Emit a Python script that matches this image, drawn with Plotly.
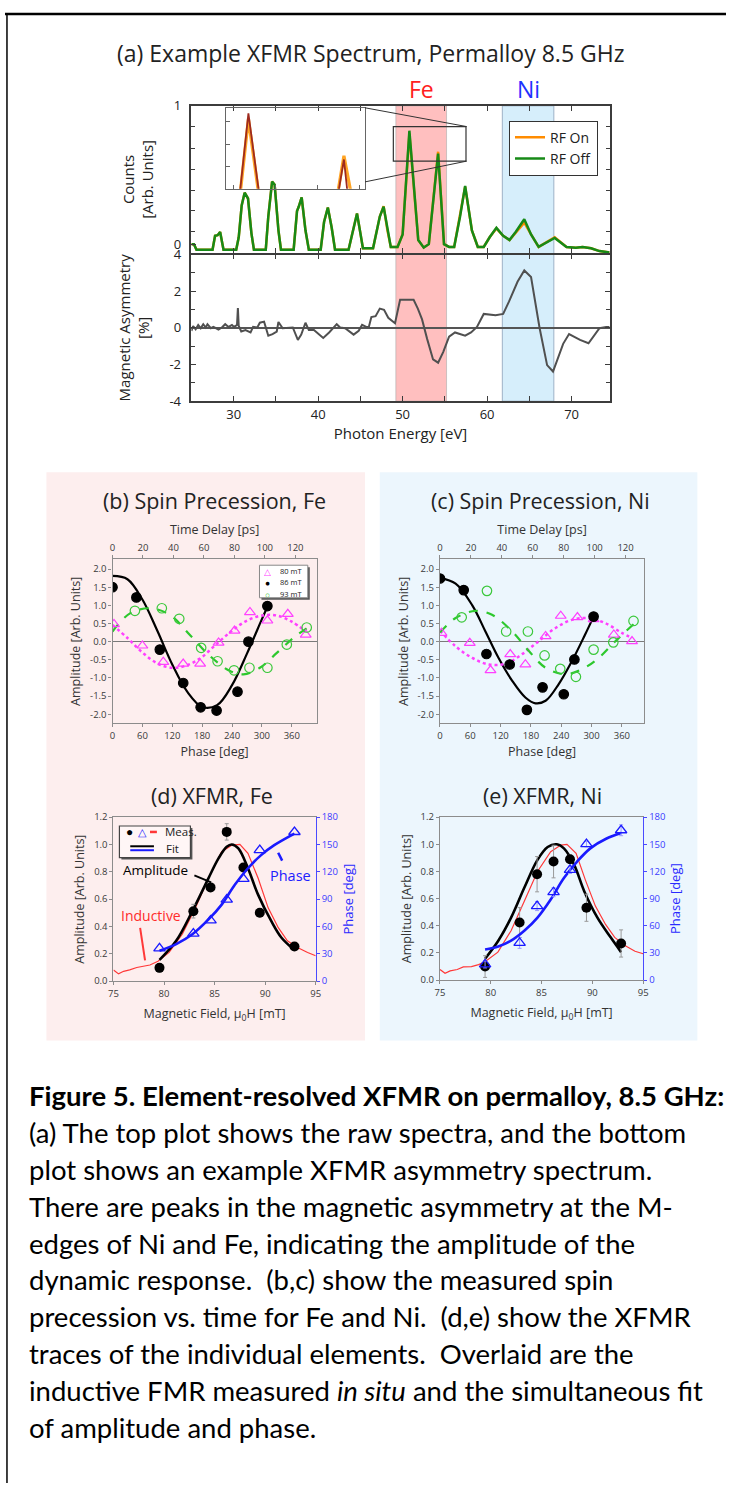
import plotly.graph_objects as go

W, H = 731, 1492
def px(v): return v / W
def py(v): return 1 - v / H

FONT = "Open Sans"
CAP_FONT = "Lato"

# ---------------- (a) spectra ----------------
spec_energy = [25.0, 25.3, 25.6, 27.5, 27.8, 28.1, 28.4, 28.8, 30.3, 30.6,
               30.95, 31.3, 31.7, 32.1, 32.4, 33.8, 34.1, 34.55, 34.85, 35.3,
               35.6, 37.1, 37.5, 37.7, 38.05, 38.5, 38.9, 40.3, 40.7, 41.15,
               41.6, 42.0, 43.6, 44.0, 44.6, 45.0, 45.3, 46.5, 46.9, 47.3,
               47.75, 48.2, 48.6, 49.4, 50.0, 50.8, 51.85, 52.5, 53.1, 54.2,
               54.9, 55.5, 56.1, 56.8, 57.4, 58.2, 58.9, 59.6, 60.3, 61.1,
               61.9, 62.65, 63.4, 64.4, 65.2, 66.1, 68.0, 69.4, 70.5, 71.3,
               72.3, 73.3, 74.5]
rf_off_counts = [0.0, 0.0, -0.04, -0.04, 0.06, 0.065, 0.088, -0.04, -0.04, 0.05,
                 0.28, 0.372, 0.33, 0.08, -0.04, -0.04, 0.2, 0.452, 0.43, 0.1,
                 -0.04, -0.04, 0.24, 0.27, 0.338, 0.1, -0.04, -0.04, 0.16, 0.265,
                 0.12, -0.04, -0.04, 0.06, 0.222, 0.08, -0.03, -0.03, 0.08, 0.2,
                 0.271, 0.1, -0.02, -0.02, 0.07, 0.82, 0.03, -0.025, 0.0, 0.655,
                 0.0, -0.02, -0.02, 0.2, 0.42, 0.1, -0.02, -0.02, 0.05, 0.118,
                 0.06, 0.03, 0.09, 0.18, 0.07, -0.02, 0.045, -0.02, -0.025, -0.02,
                 -0.03, -0.05, -0.06]
rf_on_counts = [0.0, 0.0, -0.04, -0.04, 0.06, 0.065, 0.088, -0.04, -0.04, 0.05,
                0.28, 0.372, 0.33, 0.08, -0.04, -0.04, 0.2, 0.452, 0.43, 0.1,
                -0.04, -0.04, 0.24, 0.27, 0.338, 0.1, -0.04, -0.04, 0.16, 0.265,
                0.12, -0.04, -0.04, 0.06, 0.222, 0.08, -0.03, -0.03, 0.08, 0.2,
                0.275, 0.1, -0.02, -0.02, 0.07, 0.80, 0.03, -0.025, 0.0, 0.668,
                0.0, -0.02, -0.02, 0.2, 0.415, 0.1, -0.02, -0.02, 0.05, 0.113,
                0.06, 0.03, 0.085, 0.155, 0.07, -0.02, 0.05, -0.02, -0.025, -0.02,
                -0.03, -0.05, -0.06]

asym_energy = [25.0, 25.2, 25.5, 25.8, 26.1, 26.4, 26.7, 26.9, 27.3, 27.6,
               28.2, 28.6, 29.0, 29.4, 29.8, 30.05, 30.4, 30.5, 30.6, 30.9,
               31.4, 32.0, 32.3, 32.8, 33.1, 33.6, 34.1, 34.6, 35.1, 35.3,
               35.8, 36.4, 37.0, 37.6, 38.0, 38.5, 38.9, 39.5, 40.6, 41.3,
               42.2, 42.6, 43.2, 44.2, 44.8, 45.2, 45.7, 46.0, 46.3, 46.8,
               47.3, 47.8, 48.3, 49.1, 49.7, 50.3, 51.3, 51.8, 52.3, 52.9,
               53.6, 54.2, 54.8, 55.5, 56.2, 57.4, 58.1, 58.8, 59.6, 61.0,
               61.9, 62.6, 63.6, 64.4, 65.2, 66.2, 67.1, 67.8, 69.0, 69.7,
               71.0, 72.0, 73.3, 74.1, 74.5]
asym_percent = [-0.16, 0.1, -0.07, 0.16, -0.02, 0.2, 0.02, 0.2, -0.02, 0.05,
                -0.09, 0.02, 0.2, 0.05, 0.16, 0.05, 0.16, 1.08, 0.1, -0.2,
                -0.12, -0.25, 0.05, 0.02, 0.28, 0.34, -0.43, -0.34, -0.2, 0.32,
                -0.02, 0.02, 0.02, -0.66, -0.37, 0.28, -0.12, -0.12, -0.55, -0.25,
                0.2, 0.02, -0.02, -0.37, -0.16, 0.16, 0.05, 0.05, 0.59, 0.64,
                1.05, 0.98, 0.55, 0.25, 1.53, 1.53, 1.53, 1.05, 0.46, -0.6,
                -1.72, -1.9, -1.32, -0.48, -0.25, -0.43, -0.25, 0.05, 0.76, 0.69,
                0.76, 1.44, 2.51, 3.13, 2.77, 0.02, -2.03, -2.38, -0.87, -0.34,
                -0.66, -0.84, -0.02, 0.05, 0.05]
fe_band = [49.2, 55.2]
ni_band = [61.8, 67.9]
inset_box_x = [48.9, 57.5]
inset_box_y = [0.6, 0.85]

# ---------------- (b) spin precession Fe ----------------
b_ph_80 = [3, 60, 102, 142, 176, 213, 245, 276, 311, 352, 388]
b_amp_80 = [0.48, -0.11, -0.56, -0.61, -0.61, -0.03, 0.30, 0.81, 0.58, 0.76, 0.19]
b_ph_86 = [0, 48, 95, 142, 177, 209, 251, 273, 311]
b_amp_86 = [1.5, 1.22, -0.22, -1.14, -1.81, -1.9, -1.38, 0.0, 0.98]
b_ph_93 = [45, 99, 134, 178, 211, 244, 275, 311, 350, 390]
b_amp_93 = [0.85, 0.92, 0.63, -0.17, -0.54, -0.79, -0.72, -0.72, -0.08, 0.39]
b_fit86_ph = [0, 30, 60, 90, 120, 150, 180, 210, 240, 270, 300, 311]
b_fit86_amp = [1.81, 1.72, 1.16, 0.3, -0.63, -1.38, -1.8, -1.75, -1.2, -0.33, 0.62, 0.96]
b_fit80_ph = [0, 30, 60, 90, 120, 150, 180, 210, 240, 270, 300, 330, 360, 388]
b_fit80_amp = [0.46, 0.1, -0.3, -0.6, -0.72, -0.65, -0.42, -0.05, 0.3, 0.58, 0.72, 0.72, 0.55, 0.28]
b_fit93_ph = [0, 35, 75, 115, 155, 196, 236, 263, 296, 330, 363, 390]
b_fit93_amp = [0.28, 0.78, 0.92, 0.74, 0.19, -0.4, -0.81, -0.9, -0.72, -0.31, 0.1, 0.37]
legend_fields = ["80 mT", "86 mT", "93 mT"]

# ---------------- (c) spin precession Ni ----------------
c_ph_80 = [3, 59, 100, 139, 169, 209, 239, 272, 304, 344, 380]
c_amp_80 = [0.24, -0.04, -0.79, -0.35, -0.63, 0.15, 0.71, 0.67, 0.62, 0.19, 0.01]
c_ph_86 = [0, 47, 92, 138, 172, 203, 245, 266, 304]
c_amp_86 = [1.74, 1.42, -0.34, -0.63, -1.88, -1.26, -1.45, -0.49, 0.69]
c_ph_93 = [43, 93, 131, 174, 207, 238, 269, 304, 343, 383]
c_amp_93 = [0.67, 1.40, 0.28, 0.28, -0.38, -0.75, -0.97, -0.22, -0.02, 0.57]
c_fit86_ph = [0, 31, 64, 90, 116, 143, 169, 189, 209, 235, 261, 287, 304]
c_fit86_amp = [1.75, 1.6, 1.0, 0.28, -0.45, -1.08, -1.54, -1.70, -1.63, -1.17, -0.54, 0.19, 0.69]
c_fit80_ph = [0, 31, 64, 97, 130, 162, 195, 228, 261, 294, 327, 360, 380]
c_fit80_amp = [0.3, -0.13, -0.45, -0.63, -0.61, -0.35, 0.01, 0.37, 0.6, 0.65, 0.51, 0.24, 0.1]
c_fit93_ph = [0, 31, 70, 103, 143, 176, 209, 248, 281, 314, 347, 383]
c_fit93_amp = [0.25, 0.65, 0.85, 0.74, 0.28, -0.26, -0.72, -0.9, -0.76, -0.45, 0.01, 0.48]

DEG_PER_PS = 3.06
B_RANGE = 410
C_RANGE = 404

# ---------------- (d) XFMR Fe ----------------
d_field = [79.55, 82.9, 84.6, 86.2, 87.85, 89.47, 92.9]
d_amp = [0.097, 0.512, 0.686, 1.092, 0.831, 0.5, 0.254]
d_amp_err = [0.03, 0.05, 0.03, 0.06, 0.03, 0.03, 0.02]
d_phase = [35.9, 52.2, 66.6, 89.5, 112.3, 143.8, 163.7]
d_fit_field = [79.55, 81.2, 82.8, 84.4, 85.4, 86.2, 86.7, 87.35, 88.3, 89.3, 90.6, 91.6, 92.9]
d_fit_amp = [0.155, 0.295, 0.512, 0.754, 0.9, 0.983, 1.0, 0.971, 0.826, 0.633, 0.44, 0.319, 0.227]
d_phfit_field = [79.55, 81.2, 82.8, 84.4, 85.7, 87.0, 88.3, 89.6, 90.9, 92.9]
d_phfit = [33.3, 40.6, 51.4, 67.7, 84.0, 105.8, 123.9, 138.3, 149.2, 161.9]
d_ind_field = [75.0, 75.5, 76.0, 76.6, 77.3, 77.9, 78.6, 79.4, 80.5, 81.8, 83.1, 84.4,
               85.7, 86.7, 87.5, 88.3, 89.3, 90.3, 91.3, 92.2, 93.2, 94.2, 95.0]
d_ind_amp = [0.082, 0.053, 0.072, 0.082, 0.10, 0.106, 0.118, 0.145, 0.21, 0.343, 0.536, 0.754,
             0.947, 0.995, 1.0, 0.935, 0.754, 0.536, 0.391, 0.295, 0.246, 0.21, 0.186]

# ---------------- (e) XFMR Ni ----------------
e_field = [79.44, 82.84, 84.56, 86.18, 87.8, 89.42, 92.83]
e_amp = [0.10, 0.424, 0.78, 0.873, 0.89, 0.533, 0.27]
e_amp_err = [0.08, 0.11, 0.13, 0.12, 0.03, 0.1, 0.1]
e_phase = [17.5, 41.1, 81.8, 97.1, 121.8, 150.2, 165.5]
e_phase_err = [4, 6, 5, 5, 4, 3, 6]
e_fit_field = [79.44, 80.74, 82.0, 83.3, 84.6, 85.6, 86.5, 87.2, 88.2, 89.2, 90.5, 91.8, 92.83]
e_fit_amp = [0.158, 0.29, 0.46, 0.68, 0.885, 0.98, 1.0, 0.97, 0.85, 0.655, 0.46, 0.315, 0.206]
e_phfit_field = [79.44, 80.74, 82.0, 83.3, 84.6, 85.9, 87.2, 88.5, 89.8, 91.4, 92.83]
e_phfit = [33.8, 37.1, 43.6, 54.5, 69.1, 89.1, 112.7, 130.9, 145.5, 156.4, 162.5]
e_ind_field = [75.0, 75.5, 76.0, 76.7, 77.3, 78.1, 78.8, 79.4, 80.7, 82.0, 83.3, 84.6,
               85.9, 86.9, 87.5, 88.4, 89.3, 90.3, 91.3, 92.2, 93.2, 94.2, 95.0]
e_ind_amp = [0.078, 0.05, 0.068, 0.078, 0.097, 0.10, 0.114, 0.133, 0.206, 0.364, 0.58, 0.8,
             0.945, 0.994, 1.0, 0.933, 0.74, 0.545, 0.41, 0.315, 0.255, 0.213, 0.194]

caption_title = "<b>Figure 5. Element-resolved XFMR on permalloy, 8.5 GHz:</b>"
caption_lines = [
    "(a) The top plot shows the raw spectra, and the bottom",
    "plot shows an example XFMR asymmetry spectrum.",
    "There are peaks in the magnetic asymmetry at the M-",
    "edges of Ni and Fe, indicating the amplitude of the",
    "dynamic response.\u00a0 (b,c) show the measured spin",
    "precession vs. time for Fe and Ni.\u00a0 (d,e) show the XFMR",
    "traces of the individual elements.\u00a0 Overlaid are the",
    "inductive FMR measured <i>in situ</i> and the simultaneous fit",
    "of amplitude and phase.",
]

# colours
ORANGE = "#FF8C00"
GREEN = "#178A17"
MAGENTA = "#FF40FF"
LGREEN = "#3CC83C"
BLUE = "#1A1AFF"
RED = "#FF3838"

fig = go.Figure()

# ---- (a) traces ----
fig.add_trace(go.Scatter(x=spec_energy, y=rf_on_counts, mode="lines", name="RF On",
                         line=dict(color=ORANGE, width=2.5), xaxis="x", yaxis="y"))
fig.add_trace(go.Scatter(x=spec_energy, y=rf_off_counts, mode="lines", name="RF Off",
                         line=dict(color=GREEN, width=2.5), xaxis="x", yaxis="y"))
fig.add_trace(go.Scatter(x=spec_energy, y=rf_on_counts, mode="lines", showlegend=False,
                         line=dict(color="#FFA526", width=3.2), xaxis="x3", yaxis="y3"))
fig.add_trace(go.Scatter(x=spec_energy, y=rf_off_counts, mode="lines", showlegend=False,
                         line=dict(color="#9E2A1E", width=1.8), xaxis="x3", yaxis="y3"))
fig.add_trace(go.Scatter(x=asym_energy, y=asym_percent, mode="lines", showlegend=False,
                         line=dict(color="#505050", width=2), xaxis="x2", yaxis="y2"))

# ---- (b)/(c) traces ----
def precession(xa, ya, xt, fits, marks):
    for (fx, fy, col, dash, w) in fits:
        fig.add_trace(go.Scatter(x=fx, y=fy, mode="lines", line=dict(color=col, dash=dash, width=w, shape="spline"),
                                 showlegend=False, xaxis=xa, yaxis=ya))
    for (mx, my, sym, col) in marks:
        fig.add_trace(go.Scatter(x=mx, y=my, mode="markers",
                                 marker=dict(symbol=sym, size=9.5, color=col, line=dict(color=col, width=1.2)),
                                 showlegend=False, xaxis=xa, yaxis=ya))
    fig.add_trace(go.Scatter(x=[0], y=[0], mode="markers", marker=dict(opacity=0),
                             showlegend=False, hoverinfo="skip", xaxis=xt, yaxis=ya))

precession("x4", "y4", "x5",
           [(b_fit86_ph, b_fit86_amp, "black", "solid", 2.2),
            (b_fit80_ph, b_fit80_amp, MAGENTA, "dot", 2.5),
            (b_fit93_ph, b_fit93_amp, "#2DC82D", "dash", 2.2)],
           [(b_ph_80, b_amp_80, "triangle-up-open", MAGENTA),
            (b_ph_86, b_amp_86, "circle", "black"),
            (b_ph_93, b_amp_93, "circle-open", LGREEN)])
precession("x6", "y6", "x7",
           [(c_fit86_ph, c_fit86_amp, "black", "solid", 2.2),
            (c_fit80_ph, c_fit80_amp, MAGENTA, "dot", 2.5),
            (c_fit93_ph, c_fit93_amp, "#2DC82D", "dash", 2.2)],
           [(c_ph_80, c_amp_80, "triangle-up-open", MAGENTA),
            (c_ph_86, c_amp_86, "circle", "black"),
            (c_ph_93, c_amp_93, "circle-open", LGREEN)])

# ---- (d)/(e) traces ----
def xfmr(xa, ya, yb, ind_x, ind_y, fit_x, fit_y, ph_x, ph_y, fx, amp, amp_err, phase, phase_err):
    fig.add_trace(go.Scatter(x=ind_x, y=ind_y, mode="lines", line=dict(color=RED, width=1.2),
                             showlegend=False, xaxis=xa, yaxis=ya))
    fig.add_trace(go.Scatter(x=fit_x, y=fit_y, mode="lines", line=dict(color="black", width=2.6, shape="spline"),
                             showlegend=False, xaxis=xa, yaxis=ya))
    fig.add_trace(go.Scatter(x=fx, y=amp, mode="markers",
                             marker=dict(symbol="circle", size=10, color="black"),
                             error_y=dict(type="data", array=amp_err, color="#9a9a9a", thickness=1, width=2),
                             showlegend=False, xaxis=xa, yaxis=ya))
    fig.add_trace(go.Scatter(x=ph_x, y=ph_y, mode="lines", line=dict(color=BLUE, width=2.6, shape="spline"),
                             showlegend=False, xaxis=xa, yaxis=yb))
    err = dict(type="data", array=phase_err, color="#9a9aff", thickness=1, width=2) if phase_err else None
    fig.add_trace(go.Scatter(x=fx, y=phase, mode="markers",
                             marker=dict(symbol="triangle-up-open", size=10, color=BLUE, line=dict(width=1.3, color=BLUE)),
                             error_y=err, showlegend=False, xaxis=xa, yaxis=yb))

xfmr("x8", "y8", "y9", d_ind_field, d_ind_amp, d_fit_field, d_fit_amp, d_phfit_field, d_phfit,
     d_field, d_amp, d_amp_err, d_phase, None)
xfmr("x10", "y10", "y11", e_ind_field, e_ind_amp, e_fit_field, e_fit_amp, e_phfit_field, e_phfit,
     e_field, e_amp, e_amp_err, e_phase, e_phase_err)

# ---------------- axes ----------------
A_COL = "#3c3c3c"
a_tick = dict(family=FONT, size=13, color="#222")
a_title = dict(family=FONT, size=15, color="#222")

def a_ax(**kw):
    d = dict(showline=True, linecolor=A_COL, linewidth=1.5, mirror="ticks", ticks="inside",
             ticklen=5, tickwidth=1.2, tickcolor=A_COL, tickfont=a_tick, showgrid=False, zeroline=False)
    d.update(kw)
    return d

P_COL = "#8c8c8c"
p_tick = dict(family=FONT, size=9.5, color="#3a3a3a")
p_title = dict(family=FONT, size=12.5, color="#333")

def p_ax(**kw):
    d = dict(showline=True, linecolor=P_COL, linewidth=1.2, ticks="outside", ticklen=3, tickwidth=1,
             tickcolor=P_COL, tickfont=p_tick, showgrid=False, zeroline=False)
    d.update(kw)
    return d

amp_vals = [-2.0, -1.5, -1.0, -0.5, 0.0, 0.5, 1.0, 1.5, 2.0]
amp_text = ["%.1f" % v for v in amp_vals]

layout = dict(
    width=W, height=H, autosize=False, margin=dict(l=0, r=0, t=0, b=0),
    paper_bgcolor="white", plot_bgcolor="rgba(0,0,0,0)",
    font=dict(family=FONT, color="#222"),
    xaxis=a_ax(domain=[px(189), px(613)], range=[25, 74.5], anchor="y", showticklabels=False,
               dtick=10, tick0=0, minor=dict(ticks="inside", dtick=5, tick0=0, ticklen=5, tickcolor=A_COL)),
    yaxis=a_ax(domain=[py(247), py(98)], range=[-0.064, 1.0], anchor="x", tickvals=[0, 1], ticktext=["0", "1"],
               ticklabelstandoff=6,
               minor=dict(ticks="inside", tickvals=[0.088, 0.24, 0.39, 0.54, 0.69, 0.85], ticklen=4, tickcolor=A_COL),
               title=dict(text="Counts<br>[Arb. Units]", font=a_title, standoff=16)),
    xaxis2=a_ax(domain=[px(189), px(613)], range=[25, 74.5], anchor="y2", dtick=10, tick0=0,
                minor=dict(ticks="inside", dtick=5, tick0=0, ticklen=5, tickcolor=A_COL),
                title=dict(text="Photon Energy [eV]", font=a_title, standoff=6)),
    yaxis2=a_ax(domain=[py(397), py(248.5)], range=[-4, 4], anchor="x2", tickvals=[-4, -2, 0, 2, 4],
                ticktext=["-4", "-2", "0", "2", "4"], zeroline=True, zerolinecolor="#555", zerolinewidth=1.5,
                ticklabelstandoff=6,
                minor=dict(ticks="inside", tickvals=[-3, -1, 1, 3], ticklen=4, tickcolor=A_COL),
                title=dict(text="Magnetic Asymmetry<br>[%]", font=a_title, standoff=16)),
    xaxis3=dict(domain=[px(224), px(365)], range=[50.0, 54.95], anchor="y3", showline=True, mirror=True,
                linecolor="#666", linewidth=1.2, ticks="inside", ticklen=4, tickcolor="#666",
                showticklabels=False, showgrid=False, zeroline=False, dtick=1.5, tick0=50.27),
    yaxis3=dict(domain=[py(182), py(100)], range=[0.55, 0.84], anchor="x3", showline=True, mirror=True,
                linecolor="#666", linewidth=1.2, ticks="inside", ticklen=4, tickcolor="#666",
                showticklabels=False, showgrid=False, zeroline=False, dtick=0.08, tick0=0.55),
    # (b)
    xaxis4=p_ax(domain=[px(109), px(316)], range=[0, B_RANGE], anchor="y4", tickvals=[0, 60, 120, 180, 240, 300, 360],
                title=dict(text="Phase [deg]", font=p_title, standoff=6)),
    xaxis5=p_ax(overlaying="x4", side="top", anchor="y4", range=[0, B_RANGE / DEG_PER_PS], dtick=20, tick0=0,
                title=dict(text="Time Delay [ps]", font=p_title, standoff=4)),
    yaxis4=p_ax(domain=[py(723), py(557)], range=[-2.25, 2.27], anchor="x4", mirror=True,
                tickvals=amp_vals, ticktext=amp_text, zeroline=True, zerolinecolor="#7a7a7a", zerolinewidth=1,
                title=dict(text="Amplitude [Arb. Units]", font=p_title, standoff=6)),
    # (c)
    xaxis6=p_ax(domain=[px(441), px(648)], range=[0, C_RANGE], anchor="y6", tickvals=[0, 60, 120, 180, 240, 300, 360],
                title=dict(text="Phase [deg]", font=p_title, standoff=6)),
    xaxis7=p_ax(overlaying="x6", side="top", anchor="y6", range=[0, C_RANGE / DEG_PER_PS], dtick=20, tick0=0,
                title=dict(text="Time Delay [ps]", font=p_title, standoff=4)),
    yaxis6=p_ax(domain=[py(723), py(557)], range=[-2.25, 2.27], anchor="x6", mirror=True,
                tickvals=amp_vals, ticktext=amp_text, zeroline=True, zerolinecolor="#7a7a7a", zerolinewidth=1,
                title=dict(text="Amplitude [Arb. Units]", font=p_title, standoff=6)),
    # (d)
    xaxis8=p_ax(domain=[px(110), px(315)], range=[75, 95], anchor="y8", dtick=5, mirror=True,
                title=dict(text="Magnetic Field, \u03bc<sub>0</sub>H [mT]", font=p_title, standoff=10)),
    yaxis8=p_ax(domain=[py(984), py(818)], range=[0, 1.2], anchor="x8", dtick=0.2, tickformat=".1f",
                title=dict(text="Amplitude [Arb. Units]", font=p_title, standoff=6)),
    yaxis9=p_ax(overlaying="y8", side="right", anchor="x8", range=[0, 180], dtick=30,
                linecolor="#4a4aff", tickcolor="#4a4aff", tickfont=dict(family=FONT, size=9.5, color="#3a3aff"),
                title=dict(text="Phase [deg]", font=dict(family=FONT, size=13, color="#2a2aff"), standoff=6)),
    # (e)
    xaxis10=p_ax(domain=[px(441), px(647)], range=[75, 95], anchor="y10", dtick=5, mirror=True,
                 title=dict(text="Magnetic Field, \u03bc<sub>0</sub>H [mT]", font=p_title, standoff=10)),
    yaxis10=p_ax(domain=[py(983), py(818)], range=[0, 1.2], anchor="x10", dtick=0.2, tickformat=".1f",
                 title=dict(text="Amplitude [Arb. Units]", font=p_title, standoff=6)),
    yaxis11=p_ax(overlaying="y10", side="right", anchor="x10", range=[0, 180], dtick=30,
                 linecolor="#4a4aff", tickcolor="#4a4aff", tickfont=dict(family=FONT, size=9.5, color="#3a3aff"),
                 title=dict(text="Phase [deg]", font=dict(family=FONT, size=13, color="#2a2aff"), standoff=6)),
    showlegend=True,
    legend=dict(x=px(511), y=py(113), xanchor="left", yanchor="top", bgcolor="white",
                bordercolor="#333", borderwidth=1, font=dict(family=FONT, size=14, color="#222"),
                itemwidth=30, tracegroupgap=0),
)
fig.update_layout(**layout)

# ---------------- shapes ----------------
shapes = []
def rect_px(x0, y0, x1, y1, **kw):
    d = dict(type="rect", xref="paper", yref="paper", x0=px(x0), x1=px(x1), y0=py(y1), y1=py(y0))
    d.update(kw)
    return d
def line_px(x0, y0, x1, y1, **kw):
    d = dict(type="line", xref="paper", yref="paper", x0=px(x0), x1=px(x1), y0=py(y0), y1=py(y1))
    d.update(kw)
    return d

shapes.append(rect_px(42, 469, 365, 1044, fillcolor="#FDEEEE", line=dict(width=0), layer="below"))
shapes.append(rect_px(380, 469, 702, 1044, fillcolor="#ECF6FD", line=dict(width=0), layer="below"))
for band, col, edge in [(fe_band, "#FFBFBF", "rgba(170,170,170,0.6)"), (ni_band, "#D6EEFB", "rgba(140,160,185,0.8)")]:
    shapes.append(dict(type="rect", xref="x", yref="paper", x0=band[0], x1=band[1], y0=py(397), y1=py(98),
                       fillcolor=col, line=dict(color=edge, width=1), layer="below"))
# inset zoom box and connectors
shapes.append(dict(type="rect", xref="x", yref="y", x0=inset_box_x[0], x1=inset_box_x[1],
                   y0=inset_box_y[0], y1=inset_box_y[1], line=dict(color="#333", width=1.2)))
shapes.append(line_px(365, 100, 468, 119, line=dict(color="#333", width=1)))
shapes.append(line_px(365, 175, 468, 154, line=dict(color="#333", width=1)))
# (b) legend box
shapes.append(rect_px(260, 565, 309, 598, fillcolor="#555", line=dict(width=0)))
shapes.append(rect_px(258, 563, 307, 596, fillcolor="white", line=dict(color="#888", width=1)))
# (d) legend box
shapes.append(rect_px(118, 829, 190, 861, fillcolor="#555", line=dict(width=0)))
shapes.append(rect_px(116, 827, 188, 859, fillcolor="#FFF6F6", line=dict(color="#444", width=1.2)))
shapes.append(line_px(147, 833, 154, 833, line=dict(color=RED, width=2.5)))
shapes.append(line_px(127, 847.5, 151, 847.5, line=dict(color="black", width=2)))
shapes.append(line_px(127, 851.5, 151, 851.5, line=dict(color=BLUE, width=2)))
# pointer lines in (d)
shapes.append(line_px(192, 877, 209, 884, line=dict(color="black", width=2)))
shapes.append(line_px(137, 930, 142, 963, line=dict(color=RED, width=2)))
shapes.append(line_px(277, 854, 281, 862, line=dict(color=BLUE, width=2.5)))
# frame
shapes.append(line_px(0, 5, 731, 5, line=dict(color="black", width=2.5)))
shapes.append(line_px(2, 5, 2, 1492, line=dict(color="black", width=1.5)))
fig.update_layout(shapes=shapes)

# ---------------- annotations ----------------
ann = []
def txt(x, y, text, size, color="#222", xanchor="center", family=FONT, **kw):
    d = dict(xref="paper", yref="paper", x=px(x), y=py(y), text=text, showarrow=False,
             xanchor=xanchor, yanchor="middle", font=dict(family=family, size=size, color=color))
    d.update(kw)
    return d

ann.append(txt(371, 45, "(a) Example XFMR Spectrum, Permalloy 8.5 GHz", 23))
ann.append(dict(xref="x", yref="paper", x=sum(fe_band) / 2, y=py(81), text="Fe", showarrow=False,
                yanchor="middle", font=dict(family=FONT, size=23, color="#FF2020")))
ann.append(dict(xref="x", yref="paper", x=sum(ni_band) / 2, y=py(81), text="Ni", showarrow=False,
                yanchor="middle", font=dict(family=FONT, size=23, color="#2030FF")))
ann.append(txt(212, 498, "(b) Spin Precession, Fe", 21.5))
ann.append(txt(543, 498, "(c) Spin Precession, Ni", 21.5))
ann.append(txt(210, 796, "(d) XFMR, Fe", 21.5))
ann.append(txt(545, 796, "(e) XFMR, Ni", 21.5))
# (b) legend entries
for i, (lab, sym, col) in enumerate(zip(legend_fields, ["\u25B3", "\u25CF", "\u25CB"], [MAGENTA, "black", LGREEN])):
    yy = 569 + 11.5 * i
    ann.append(txt(266, yy, sym, 8.5, col, height=10))
    ann.append(txt(277, yy, lab, 7.5, "#222", xanchor="left", height=10))
ann.append(txt(153, 872, "Amplitude", 13.5, "black"))
ann.append(txt(148, 918, "Inductive", 14, "#FF2A2A"))
ann.append(txt(289, 877, "Phase", 14.5, "#2020FF"))
ann.append(txt(126, 833, "\u25CF", 12, "black"))
ann.append(txt(139, 833, "\u25B3", 11, BLUE))
ann.append(txt(160, 833, "Meas.", 11.5, "#222", xanchor="left"))
ann.append(txt(170, 850, "Fit", 11.5, "#222"))
ann.append(txt(22, 1100, caption_title, 27.5, "black", xanchor="left", family=CAP_FONT))
for i, line in enumerate(caption_lines):
    ann.append(txt(22, 1137.3 + 37.3 * i, line, 27.5, "black", xanchor="left", family=CAP_FONT))
fig.update_layout(annotations=ann)

fig.write_html("out.html", config={"displayModeBar": False},
               post_script="document.body.style.margin='0';document.body.style.overflow='hidden';")
